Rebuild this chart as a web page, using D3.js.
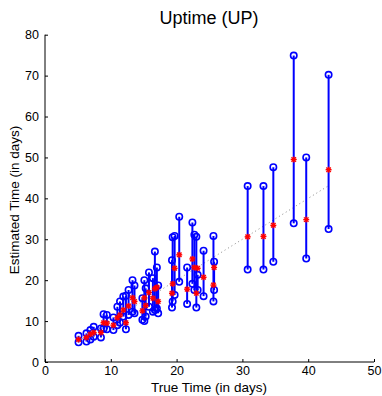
<!DOCTYPE html>
<html><head><meta charset="utf-8">
<script src="https://cdn.jsdelivr.net/npm/d3@7"></script>
<style>body{margin:0;background:#fff}svg{display:block}</style>
</head><body>
<svg id="c" width="382" height="396"></svg>
<script>
// true time (days)
const trueTime = [5.1,6.3,6.9,7.4,8.5,8.9,9.4,10.4,11.0,11.4,11.9,12.3,12.7,13.3,13.6,14.8,15.1,15.3,15.8,16.4,16.7,17.0,17.2,19.3,19.4,19.7,20.4,21.6,22.4,22.7,23.0,23.2,24.1,25.6,25.7,30.8,33.2,34.7,37.8,39.7,43.1];
// upper estimate (circle)
const estHigh = [6.4,7.0,7.8,8.6,8.2,11.7,11.5,10.9,13.5,14.8,16.0,16.2,17.6,20.0,18.7,15.6,20.0,18.0,21.9,20.5,27.0,23.1,18.7,24.9,30.5,30.8,35.5,23.1,34.1,31.1,30.6,21.3,27.2,30.8,24.5,43.0,43.0,47.6,74.9,50.0,70.2];
// lower estimate (circle)
const estLow = [4.8,5.0,5.5,6.2,6.0,8.1,8.0,7.8,9.0,9.6,11.1,8.0,11.5,12.3,11.9,10.3,10.0,11.1,13.5,12.3,12.7,13.1,11.9,13.3,14.8,16.4,19.6,14.2,19.1,17.6,13.3,17.6,16.1,14.8,17.6,22.6,22.6,24.5,33.9,25.3,32.5];
// mean estimate (star)
const estMean = [5.5,6.0,6.8,7.2,7.2,9.6,9.5,9.0,10.8,11.5,12.7,9.6,13.7,15.7,14.8,12.5,15.7,13.8,17.0,15.6,17.9,18.3,14.8,16.8,19.1,22.9,26.2,17.8,25.2,23.1,16.8,22.9,20.7,18.8,23.1,30.6,30.7,33.4,49.5,34.8,47.0];
const xTicks = [0,10,20,30,40,50];
const yTicks = [0,10,20,30,40,50,60,70,80];

const svg = d3.select("#c");
const x = d3.scaleLinear().domain([0,50]).range([45,374]);
const y = d3.scaleLinear().domain([0,80]).range([362,34.7]);
const font = "Liberation Sans, Arial, Helvetica, sans-serif";

// diagonal reference
const dmin = d3.min(trueTime), dmax = d3.max(trueTime);
svg.append("line").attr("x1",x(dmin)).attr("y1",y(dmin)).attr("x2",x(dmax)).attr("y2",y(dmax))
  .attr("stroke","#888").attr("stroke-width",1).attr("stroke-dasharray","1,3");

const data = trueTime.map((t,i)=>({t,hi:estHigh[i],lo:estLow[i],m:estMean[i]}));
const g = svg.append("g");
g.selectAll("line.seg").data(data).join("line").attr("class","seg")
  .attr("x1",d=>x(d.t)).attr("x2",d=>x(d.t)).attr("y1",d=>y(d.lo)).attr("y2",d=>y(d.hi))
  .attr("stroke","#0000ff").attr("stroke-width",2);
const circ = [];
data.forEach(d=>{circ.push({t:d.t,v:d.hi});circ.push({t:d.t,v:d.lo});});
g.selectAll("circle").data(circ).join("circle")
  .attr("cx",d=>x(d.t)).attr("cy",d=>y(d.v)).attr("r",3.2)
  .attr("fill","none").attr("stroke","#0000ff").attr("stroke-width",1.6);
const sg = g.selectAll("g.star").data(data).join("g").attr("class","star")
  .attr("transform",d=>`translate(${x(d.t)},${y(d.m)})`);
sg.each(function(){
  const s = d3.select(this), r=3;
  [[-r,0,r,0],[0,-r,0,r],[-r*0.75,-r*0.75,r*0.75,r*0.75],[-r*0.75,r*0.75,r*0.75,-r*0.75]].forEach(c=>
    s.append("line").attr("x1",c[0]).attr("y1",c[1]).attr("x2",c[2]).attr("y2",c[3])
     .attr("stroke","#ff0000").attr("stroke-width",1.4));
});

// axes
const xAxis = d3.axisBottom(x).tickValues(xTicks).tickSizeInner(-3).tickSizeOuter(0).tickPadding(5);
const yAxis = d3.axisLeft(y).tickValues(yTicks).tickSizeInner(-3).tickSizeOuter(0).tickPadding(6);
const gx = svg.append("g").attr("transform","translate(0,362)").call(xAxis);
const gy = svg.append("g").attr("transform","translate(45,0)").call(yAxis);
[gx,gy].forEach(a=>{
  a.select(".domain").attr("stroke","#000").attr("stroke-width",1);
  a.selectAll(".tick line").attr("stroke","#000");
  a.selectAll("text").attr("fill","#000").style("font-family",font).style("font-size","12.5px");
});
gx.selectAll("text").attr("dy","0.6em");
gx.select(".domain").attr("d",`M${x(0)},0H${x(50)}`);
gy.select(".domain").attr("d",`M0,${y(0)}V${y(80)}`);

svg.append("text").attr("x",209).attr("y",24).attr("text-anchor","middle")
  .style("font-family",font).style("font-size","18px").text("Uptime (UP)");
svg.append("text").attr("x",209).attr("y",392).attr("text-anchor","middle")
  .style("font-family",font).style("font-size","13.5px").text("True Time (in days)");
svg.append("text").attr("transform","translate(19,200) rotate(-90)").attr("text-anchor","middle")
  .style("font-family",font).style("font-size","13.5px").text("Estimated Time (in days)");
</script>
</body></html>
